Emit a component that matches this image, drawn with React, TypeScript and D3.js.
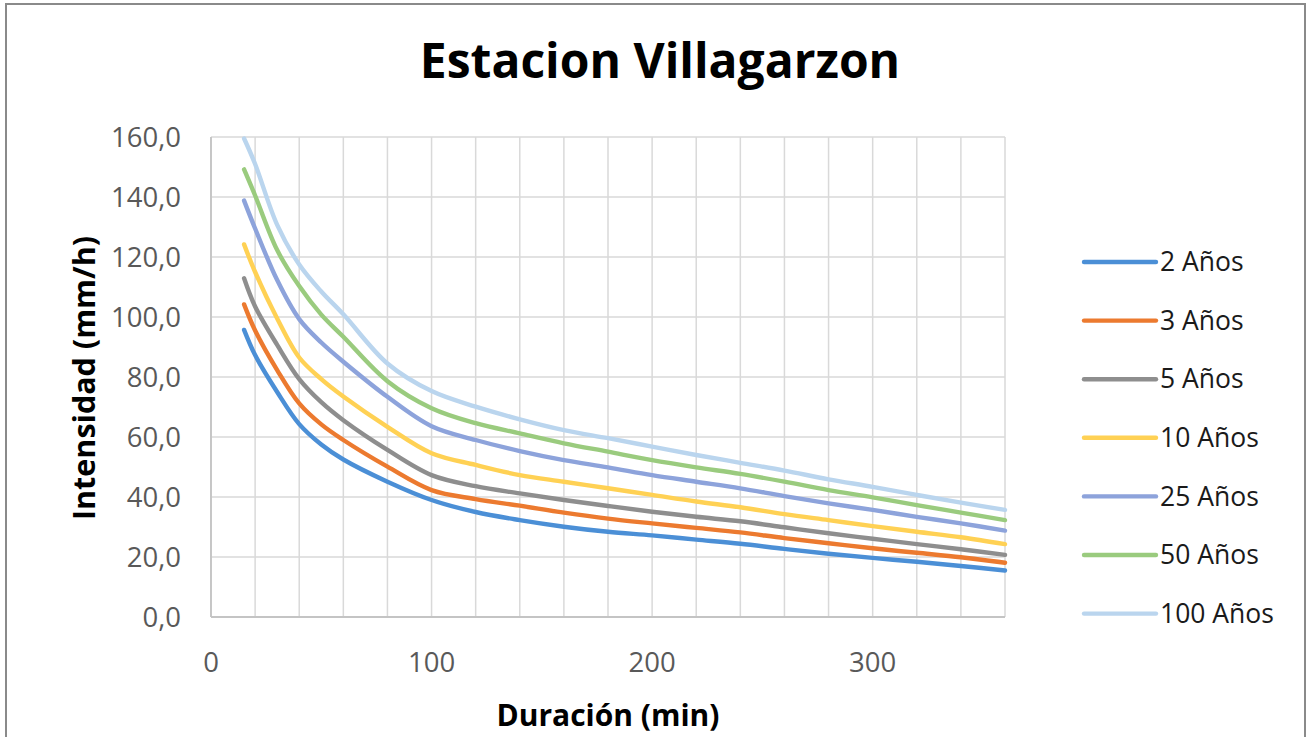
import React from "react";
import * as d3 from "d3";

const durations = [15, 20, 30, 40, 50, 60, 80, 100, 120, 140, 160, 180, 200, 220, 240, 260, 280, 300, 320, 340, 360];

const years2 = [95.7, 87.3, 75, 64.3, 57.5, 52.5, 45.1, 39, 35, 32.3, 30.1, 28.4, 27.2, 25.8, 24.4, 22.7, 21.1, 19.7, 18.4, 17.0, 15.5];
const years3 = [104.2, 95.5, 82.3, 71.2, 64.2, 59, 50.1, 42.3, 39.3, 37.1, 34.8, 32.8, 31.2, 29.7, 28.2, 26.3, 24.6, 22.9, 21.4, 19.9, 18.1];
const years5 = [112.9, 103.5, 90.7, 79.3, 71.6, 65.6, 55.7, 47.3, 43.6, 41.2, 39, 37, 35.1, 33.4, 31.9, 29.9, 27.9, 26.1, 24.3, 22.6, 20.7];
const years10 = [124.2, 115, 99.5, 86.5, 79.3, 73.5, 63.4, 54.6, 50.7, 47.3, 45.1, 42.9, 40.7, 38.5, 36.6, 34.3, 32.3, 30.3, 28.4, 26.6, 24.3];
const years25 = [138.8, 129.5, 112.3, 99.3, 91.5, 85.1, 73.4, 63.6, 59, 55.3, 52.3, 49.9, 47.3, 45.1, 42.9, 40.3, 37.9, 35.7, 33.4, 31.2, 28.8];
const years50 = [149.2, 140.5, 122.3, 110.3, 100.8, 93.4, 78.6, 69.6, 64.6, 61.2, 57.9, 55.1, 52.3, 49.9, 47.7, 45.1, 42.3, 39.9, 37.3, 34.8, 32.3];
const years100 = [159.5, 151, 130.7, 117.5, 108.5, 100.9, 84.5, 75.3, 70.1, 65.9, 62.3, 59.6, 56.8, 54, 51.4, 48.8, 45.9, 43.4, 40.7, 38.1, 35.7];

const seriesNames = ["2 Años", "3 Años", "5 Años", "10 Años", "25 Años", "50 Años", "100 Años"];
const seriesValues = [years2, years3, years5, years10, years25, years50, years100];
const seriesColors = ["#4B8FD6", "#EC7A2F", "#8E8E8E", "#FFD154", "#8DA3DB", "#9ACB7E", "#BAD5EE"];

const yTicks = [0, 20, 40, 60, 80, 100, 120, 140, 160];
const xGridTicks = d3.range(0, 361, 20);
const xTickLabels = [0, 100, 200, 300];

const title = "Estacion Villagarzon";
const xTitle = "Duración (min)";
const yTitle = "Intensidad (mm/h)";

const W = 1309;
const H = 737;
const FONT = "'Open Sans', 'DejaVu Sans', sans-serif";

export default function App() {
  const x = d3.scaleLinear().domain([0, 360]).range([211, 1005]);
  const y = d3.scaleLinear().domain([0, 160]).range([617, 137]);
  const line = d3
    .line<[number, number]>()
    .x((d) => x(d[0]))
    .y((d) => y(d[1]))
    .curve(d3.curveCatmullRom.alpha(0.5));
  const fmt = (v: number) => d3.format(".1f")(v).replace(".", ",");
  const legendY0 = 262;
  const legendStep = 58.6;

  return (
    <svg
      width={W}
      height={H}
      style={{ position: "absolute", left: 0, top: 0, background: "#fff" }}
    >
      <rect x={0} y={0} width={W} height={H} fill="#fff" />
      <rect x={6} y={4} width={1299} height={760} fill="none" stroke="#8a8a8a" strokeWidth={2} />
      <text x={660} y={78} textAnchor="middle" fontFamily={FONT} fontWeight={700} fontSize={48} fill="#000">
        {title}
      </text>

      {yTicks.map((t) => (
        <line key={"gy" + t} x1={x(0)} x2={x(360)} y1={y(t)} y2={y(t)} stroke="#d9d9d9" strokeWidth={1.5} />
      ))}
      {xGridTicks.map((t) => (
        <line key={"gx" + t} x1={x(t)} x2={x(t)} y1={y(0)} y2={y(160)} stroke="#d9d9d9" strokeWidth={1.5} />
      ))}
      <line x1={x(0)} x2={x(0)} y1={y(0)} y2={y(160)} stroke="#c4c4c4" strokeWidth={1.8} />
      <line x1={x(0)} x2={x(360)} y1={y(0)} y2={y(0)} stroke="#c4c4c4" strokeWidth={1.8} />

      {yTicks.map((t) => (
        <text key={"ty" + t} x={181} y={y(t)} dy="0.35em" textAnchor="end" fontFamily={FONT} fontSize={27.5} fill="#595959">
          {fmt(t)}
        </text>
      ))}
      {xTickLabels.map((t) => (
        <text key={"tx" + t} x={x(t)} y={662} dy="0.35em" textAnchor="middle" fontFamily={FONT} fontSize={27.5} fill="#595959">
          {t}
        </text>
      ))}

      <text x={608} y={715} dy="0.35em" textAnchor="middle" fontFamily={FONT} fontWeight={700} fontSize={30} fill="#000">
        {xTitle}
      </text>
      <text
        transform={`translate(${84},${378}) rotate(-90)`}
        dy="0.35em"
        textAnchor="middle"
        fontFamily={FONT}
        fontWeight={700}
        fontSize={30.5}
        fill="#000"
      >
        {yTitle}
      </text>

      {seriesValues.map((vals, i) => (
        <path
          key={"s" + i}
          d={line(durations.map((d, j) => [d, vals[j]] as [number, number])) || ""}
          fill="none"
          stroke={seriesColors[i]}
          strokeWidth={4.4}
          strokeLinecap="round"
          strokeLinejoin="round"
        />
      ))}

      {seriesNames.map((name, i) => (
        <g key={"lg" + i} transform={`translate(0,${legendY0 + i * legendStep})`}>
          <line x1={1084} x2={1156} y1={0} y2={0} stroke={seriesColors[i]} strokeWidth={4.4} strokeLinecap="round" />
          <text x={1160} y={0} dy="0.35em" fontFamily={FONT} fontSize={26.5} fill="#1a1a1a">
            {name}
          </text>
        </g>
      ))}
    </svg>
  );
}
